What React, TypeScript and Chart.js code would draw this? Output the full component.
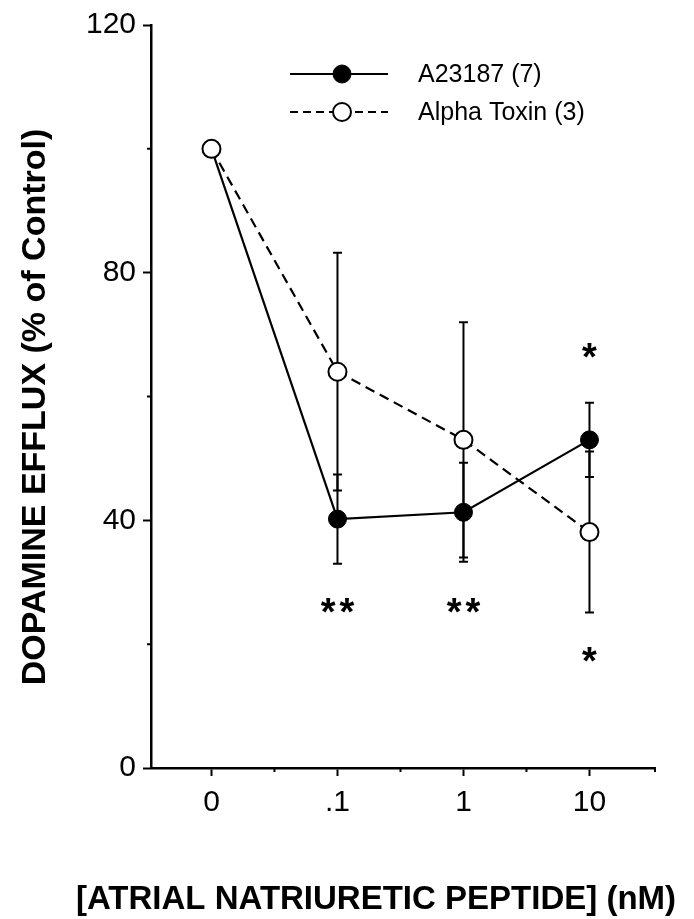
import React, { useEffect, useRef } from 'react';
import { Chart, registerables } from 'chart.js';

Chart.register(...registerables);

// ---- data ----
const doses = [0, 1, 2, 3];
const doseLabels = ['0', '.1', '1', '10'];
const a23187Mean = [100, 40.2, 41.3, 53];
const a23187Err = [0, 7.2, 8, 6];
const alphaMean = [100, 64, 53, 38.1];
const alphaErr = [0, 19.2, 19, 13];
const yMajorTicks = [0, 40, 80, 120];
const yMinorTicks = [20, 60, 100];
const xMinorTicks = [0.5, 1.5, 2.5, 3.52];
const starX = [1, 2, 3, 3];
const starY = [26.5, 26.5, 67.7, 18.6];
const starText = ['**', '**', '*', '*'];
const seriesLabels = ['A23187 (7)', 'Alpha Toxin (3)'];
const yTitle = 'DOPAMINE EFFLUX (% of Control)';
const xTitle = '[ATRIAL NATRIURETIC PEPTIDE] (nM)';

const FAMILY = '"Liberation Sans", Arial, Helvetica, sans-serif';

const errorBarPlugin = {
  id: 'errorBars',
  beforeDatasetsDraw(chart: any) {
    const { ctx } = chart;
    const xs = chart.scales.x;
    const ys = chart.scales.y;
    ctx.save();
    ctx.strokeStyle = '#000';
    ctx.lineWidth = 2;
    chart.data.datasets.forEach((ds: any) => {
      const errs: number[] = ds.errors || [];
      ds.data.forEach((p: any, i: number) => {
        const e = errs[i];
        if (!e) return;
        const px = xs.getPixelForValue(p.x);
        const top = ys.getPixelForValue(p.y + e);
        const bot = ys.getPixelForValue(p.y - e);
        ctx.beginPath();
        ctx.moveTo(px, top);
        ctx.lineTo(px, bot);
        ctx.moveTo(px - 4.5, top);
        ctx.lineTo(px + 4.5, top);
        ctx.moveTo(px - 4.5, bot);
        ctx.lineTo(px + 4.5, bot);
        ctx.stroke();
      });
    });
    ctx.restore();
  },
};

const decorPlugin = {
  id: 'decor',
  afterDraw(chart: any) {
    const { ctx, chartArea } = chart;
    const xs = chart.scales.x;
    const ys = chart.scales.y;
    ctx.save();
    ctx.strokeStyle = '#000';
    ctx.fillStyle = '#000';
    ctx.lineWidth = 2;
    // minor ticks
    ctx.beginPath();
    yMinorTicks.forEach((v) => {
      const py = ys.getPixelForValue(v);
      ctx.moveTo(chartArea.left, py);
      ctx.lineTo(chartArea.left - 4, py);
    });
    xMinorTicks.forEach((v) => {
      const px = xs.getPixelForValue(v);
      ctx.moveTo(px, chartArea.bottom);
      ctx.lineTo(px, chartArea.bottom + 4);
    });
    ctx.stroke();

    // significance stars
    ctx.font = `bold 38px ${FAMILY}`;
    ctx.textAlign = 'center';
    ctx.textBaseline = 'alphabetic';
    starText.forEach((t, i) => {
      const px = xs.getPixelForValue(starX[i]);
      const py = ys.getPixelForValue(starY[i]);
      const sp = t.length > 1 ? 4 : 0;
      (ctx as any).letterSpacing = `${sp}px`;
      ctx.fillText(t, px + sp / 2, py + 21);
    });
    (ctx as any).letterSpacing = '0px';

    // legend
    const rows = [74, 112];
    chart.data.datasets.forEach((ds: any, i: number) => {
      const y = rows[i];
      ctx.save();
      ctx.lineWidth = 2;
      ctx.setLineDash(ds.borderDash ? [8, 5] : []);
      ctx.beginPath();
      ctx.moveTo(290, y);
      ctx.lineTo(388, y);
      ctx.stroke();
      ctx.setLineDash([]);
      ctx.beginPath();
      ctx.arc(342, y, ds.pointRadius, 0, Math.PI * 2);
      ctx.fillStyle = ds.pointBackgroundColor;
      ctx.fill();
      ctx.lineWidth = ds.pointBorderWidth;
      ctx.stroke();
      ctx.restore();
      ctx.font = `25px ${FAMILY}`;
      ctx.textAlign = 'left';
      ctx.textBaseline = 'middle';
      ctx.fillStyle = '#000';
      ctx.fillText(ds.label, 418, y + 1);
    });

    // axis titles
    ctx.font = `bold 34px ${FAMILY}`;
    ctx.textAlign = 'center';
    ctx.textBaseline = 'middle';
    ctx.save();
    ctx.translate(36, 407);
    ctx.rotate(-Math.PI / 2);
    ctx.fillText(yTitle, 0, 0);
    ctx.restore();
    ctx.font = `bold 33px ${FAMILY}`;
    ctx.fillText(xTitle, 376, 900);
    ctx.restore();
  },
};

export default function App() {
  const ref = useRef<HTMLCanvasElement>(null);
  useEffect(() => {
    if (!ref.current) return;
    const chart = new Chart(ref.current, {
      type: 'line',
      data: {
        datasets: [
          {
            label: seriesLabels[0],
            data: doses.map((d, i) => ({ x: d, y: a23187Mean[i] })),
            errors: a23187Err,
            borderColor: '#000',
            borderWidth: 2.2,
            pointRadius: 9,
            pointBackgroundColor: '#000',
            pointBorderColor: '#000',
            pointBorderWidth: 1,
            fill: false,
            tension: 0,
            order: 2,
          } as any,
          {
            label: seriesLabels[1],
            data: doses.map((d, i) => ({ x: d, y: alphaMean[i] })),
            errors: alphaErr,
            borderColor: '#000',
            borderWidth: 2.2,
            borderDash: [10, 6],
            pointRadius: 9,
            pointBackgroundColor: '#fff',
            pointBorderColor: '#000',
            pointBorderWidth: 2,
            fill: false,
            tension: 0,
            order: 1,
          } as any,
        ],
      },
      options: {
        animation: false,
        responsive: false,
        layout: { padding: { top: 18, right: 39, left: 0, bottom: 0 } },
        plugins: {
          legend: { display: false },
          tooltip: { enabled: false },
          title: { display: false },
        },
        scales: {
          x: {
            type: 'linear',
            min: -0.48,
            max: 3.52,
            afterBuildTicks: (s: any) => {
              s.ticks = doses.map((v) => ({ value: v }));
            },
            afterFit: (s: any) => {
              s.height = 151;
            },
            ticks: {
              callback: (_v: any, i: number) => doseLabels[i],
              font: { family: FAMILY, size: 30 },
              color: '#000',
              padding: 9,
              maxRotation: 0,
              autoSkip: false,
            },
            grid: {
              drawOnChartArea: false,
              drawTicks: true,
              tickLength: 8,
              tickColor: '#000',
              tickWidth: 2,
            },
            border: { display: true, color: '#000', width: 2.5 },
          },
          y: {
            type: 'linear',
            min: 0,
            max: 120,
            afterBuildTicks: (s: any) => {
              s.ticks = yMajorTicks.map((v) => ({ value: v }));
            },
            afterFit: (s: any) => {
              s.width = 151;
            },
            ticks: {
              callback: (v: any) => String(v),
              font: { family: FAMILY, size: 30 },
              color: '#000',
              padding: 7,
              autoSkip: false,
            },
            grid: {
              drawOnChartArea: false,
              drawTicks: true,
              tickLength: 8,
              tickColor: '#000',
              tickWidth: 2,
            },
            border: { display: true, color: '#000', width: 2.5 },
          },
        },
      } as any,
      plugins: [errorBarPlugin, decorPlugin],
    });
    return () => chart.destroy();
  }, []);
  return (
    <canvas
      ref={ref}
      width={694}
      height={919}
      style={{ position: 'absolute', left: 0, top: 0, display: 'block' }}
    />
  );
}
